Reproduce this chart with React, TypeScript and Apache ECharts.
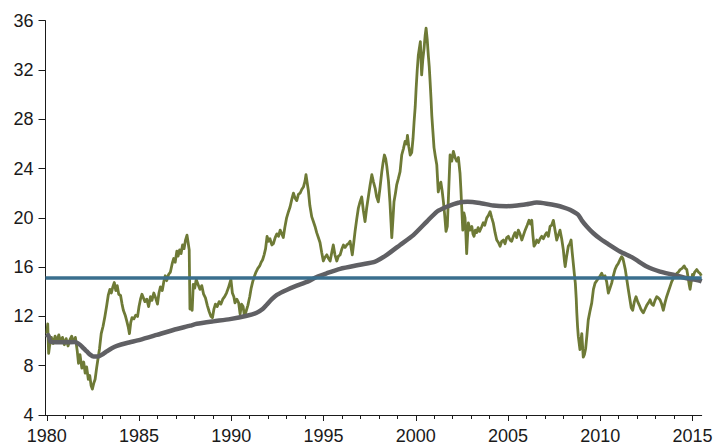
import React, { useEffect, useRef } from "react";
import * as echarts from "echarts";

// Green series: [year, value]
const peRatio: number[][] = [
  [1980.0, 10.6], [1980.05, 11.4], [1980.1, 9.0], [1980.15, 9.6], [1980.25, 10.3], [1980.35, 9.8],
  [1980.45, 10.4], [1980.55, 10.0], [1980.65, 10.5], [1980.75, 9.9], [1980.85, 10.3], [1980.95, 9.7],
  [1981.05, 10.2], [1981.15, 9.6], [1981.25, 10.1], [1981.35, 10.4], [1981.45, 9.9], [1981.55, 10.3],
  [1981.65, 9.2], [1981.72, 8.2], [1981.8, 8.9], [1981.9, 7.8], [1982.0, 8.3], [1982.08, 7.4],
  [1982.16, 7.9], [1982.25, 6.9], [1982.33, 7.2], [1982.4, 6.4], [1982.47, 6.1], [1982.55, 6.6],
  [1982.62, 6.9], [1982.7, 7.8], [1982.78, 8.6], [1982.86, 9.4], [1982.95, 10.6], [1983.05, 11.2],
  [1983.15, 12.0], [1983.25, 12.9], [1983.33, 13.7], [1983.42, 14.2], [1983.5, 13.9], [1983.58, 14.4],
  [1983.66, 14.75], [1983.74, 14.1], [1983.82, 14.5], [1983.9, 13.8], [1984.0, 13.7], [1984.08, 13.0],
  [1984.15, 12.5], [1984.25, 12.1], [1984.34, 11.6], [1984.42, 11.1], [1984.48, 10.6], [1984.55, 11.5],
  [1984.62, 11.9], [1984.72, 11.8], [1984.82, 12.1], [1984.92, 12.0], [1985.0, 12.8], [1985.08, 13.4],
  [1985.16, 13.8], [1985.24, 13.5], [1985.32, 13.2], [1985.42, 13.4], [1985.52, 12.8], [1985.62, 13.6],
  [1985.7, 13.3], [1985.8, 13.9], [1985.9, 13.5], [1986.0, 13.0], [1986.08, 13.9], [1986.16, 14.4],
  [1986.26, 14.1], [1986.34, 14.8], [1986.42, 15.3], [1986.5, 14.9], [1986.6, 15.4], [1986.7, 15.6],
  [1986.8, 16.3], [1986.88, 16.7], [1986.96, 16.4], [1987.05, 17.3], [1987.12, 16.9], [1987.2, 17.4],
  [1987.28, 17.1], [1987.36, 17.8], [1987.44, 17.5], [1987.52, 18.2], [1987.6, 18.6], [1987.66, 18.0],
  [1987.72, 17.4], [1987.76, 12.6], [1987.82, 13.2], [1987.88, 12.5], [1987.94, 14.6], [1988.02, 14.3],
  [1988.1, 15.0], [1988.2, 14.6], [1988.3, 14.2], [1988.4, 14.5], [1988.5, 13.8], [1988.6, 13.5],
  [1988.7, 12.9], [1988.8, 12.4], [1988.9, 12.0], [1988.98, 11.9], [1989.06, 12.6], [1989.14, 13.0],
  [1989.24, 12.8], [1989.34, 13.2], [1989.44, 13.0], [1989.54, 13.4], [1989.64, 13.6], [1989.74, 13.9],
  [1989.84, 14.3], [1989.92, 14.7], [1989.98, 15.0], [1990.06, 13.9], [1990.14, 13.6], [1990.2, 13.1],
  [1990.3, 13.4], [1990.4, 13.1], [1990.48, 12.2], [1990.56, 13.0], [1990.64, 12.8], [1990.72, 12.0],
  [1990.8, 12.4], [1990.9, 12.9], [1991.0, 13.6], [1991.08, 14.3], [1991.16, 14.8], [1991.24, 15.2],
  [1991.34, 15.6], [1991.44, 15.9], [1991.54, 16.1], [1991.62, 16.4], [1991.7, 16.6], [1991.78, 17.0],
  [1991.86, 17.5], [1991.94, 18.5], [1992.02, 18.1], [1992.1, 18.3], [1992.2, 17.8], [1992.28, 17.9],
  [1992.38, 18.4], [1992.47, 18.7], [1992.56, 18.5], [1992.65, 19.0], [1992.74, 18.7], [1992.82, 18.4],
  [1992.9, 19.2], [1993.0, 20.0], [1993.1, 20.5], [1993.19, 20.9], [1993.28, 21.5], [1993.37, 22.0],
  [1993.46, 21.6], [1993.55, 21.4], [1993.64, 21.9], [1993.73, 22.0], [1993.82, 22.3], [1993.91, 22.5],
  [1994.0, 23.0], [1994.05, 23.5], [1994.12, 22.8], [1994.18, 22.2], [1994.26, 21.0], [1994.36, 20.1],
  [1994.45, 19.7], [1994.54, 19.3], [1994.63, 18.8], [1994.72, 18.4], [1994.81, 18.0], [1994.9, 17.2],
  [1994.99, 16.5], [1995.08, 16.8], [1995.18, 17.0], [1995.27, 16.7], [1995.36, 16.5], [1995.45, 17.2],
  [1995.53, 17.8], [1995.62, 17.0], [1995.72, 16.5], [1995.81, 16.9], [1995.9, 17.0], [1996.0, 17.5],
  [1996.08, 17.8], [1996.17, 17.6], [1996.26, 17.8], [1996.35, 17.9], [1996.44, 18.1], [1996.56, 17.0],
  [1996.64, 18.0], [1996.71, 18.9], [1996.8, 19.9], [1996.89, 20.8], [1996.98, 21.3], [1997.07, 21.7],
  [1997.16, 20.6], [1997.25, 19.7], [1997.34, 20.8], [1997.43, 21.7], [1997.52, 22.6], [1997.62, 23.5],
  [1997.71, 22.9], [1997.8, 22.4], [1997.88, 21.7], [1997.97, 21.3], [1998.06, 22.4], [1998.16, 23.75],
  [1998.23, 24.5], [1998.3, 25.1], [1998.37, 24.8], [1998.43, 24.2], [1998.52, 23.0], [1998.6, 21.3],
  [1998.66, 19.6], [1998.7, 18.4], [1998.76, 19.8], [1998.82, 21.3], [1998.9, 22.0], [1998.97, 22.7],
  [1999.06, 23.2], [1999.15, 23.75], [1999.24, 25.1], [1999.33, 25.6], [1999.42, 26.2], [1999.5, 26.0],
  [1999.55, 26.7], [1999.62, 25.8], [1999.7, 25.1], [1999.78, 25.3], [1999.85, 26.4], [1999.91, 27.8],
  [1999.97, 29.0], [2000.02, 30.5], [2000.08, 32.0], [2000.14, 33.2], [2000.2, 33.8], [2000.25, 34.3],
  [2000.32, 31.6], [2000.38, 32.8], [2000.45, 33.75], [2000.51, 34.8], [2000.56, 35.4], [2000.62, 34.5],
  [2000.68, 33.2], [2000.73, 32.3], [2000.78, 31.0], [2000.83, 29.6], [2000.87, 28.3], [2000.93, 27.0],
  [2000.99, 25.7], [2001.06, 25.0], [2001.14, 24.3], [2001.22, 22.1], [2001.29, 22.6], [2001.36, 22.9],
  [2001.43, 22.2], [2001.5, 21.3], [2001.57, 20.2], [2001.64, 18.9], [2001.71, 19.3], [2001.78, 22.0],
  [2001.86, 25.1], [2001.95, 24.6], [2002.04, 25.4], [2002.13, 24.9], [2002.22, 24.6], [2002.31, 24.9],
  [2002.4, 23.6], [2002.45, 22.2], [2002.49, 20.9], [2002.55, 19.0], [2002.61, 20.4], [2002.67, 20.0],
  [2002.72, 18.6], [2002.76, 17.1], [2002.8, 18.3], [2002.85, 19.6], [2002.94, 19.0], [2003.04, 19.3],
  [2003.1, 18.7], [2003.16, 18.5], [2003.23, 19.0], [2003.3, 18.8], [2003.38, 19.2], [2003.46, 18.9],
  [2003.58, 19.3], [2003.66, 19.6], [2003.74, 19.4], [2003.85, 20.0], [2003.94, 20.2], [2004.03, 20.5],
  [2004.12, 20.0], [2004.2, 19.6], [2004.3, 18.8], [2004.39, 18.2], [2004.48, 18.0], [2004.57, 17.7],
  [2004.66, 18.1], [2004.75, 18.2], [2004.84, 17.9], [2004.93, 18.4], [2005.02, 18.5], [2005.11, 18.2],
  [2005.2, 18.1], [2005.29, 18.5], [2005.38, 18.8], [2005.47, 18.4], [2005.56, 19.0], [2005.65, 18.7],
  [2005.75, 18.2], [2005.84, 18.6], [2005.93, 19.0], [2006.04, 19.4], [2006.14, 19.8], [2006.22, 19.5],
  [2006.29, 19.8], [2006.35, 18.6], [2006.41, 17.7], [2006.49, 17.9], [2006.56, 18.2], [2006.65, 18.0],
  [2006.74, 18.3], [2006.83, 18.5], [2006.92, 18.3], [2007.01, 18.6], [2007.1, 18.8], [2007.19, 18.5],
  [2007.28, 19.3], [2007.37, 19.4], [2007.46, 19.8], [2007.55, 19.0], [2007.64, 18.2], [2007.73, 18.6],
  [2007.82, 19.0], [2007.91, 18.3], [2008.0, 17.4], [2008.06, 16.5], [2008.1, 16.05], [2008.17, 16.8],
  [2008.27, 17.7], [2008.35, 17.9], [2008.42, 18.2], [2008.48, 17.2], [2008.54, 16.3], [2008.6, 15.4],
  [2008.65, 14.7], [2008.7, 13.4], [2008.73, 12.3], [2008.77, 11.2], [2008.81, 10.4], [2008.86, 9.8],
  [2008.9, 9.3], [2008.95, 10.0], [2009.0, 10.6], [2009.05, 9.4], [2009.08, 8.7], [2009.14, 8.9],
  [2009.21, 9.4], [2009.28, 10.5], [2009.35, 11.7], [2009.44, 12.4], [2009.54, 13.1], [2009.63, 14.2],
  [2009.72, 14.7], [2009.81, 14.9], [2009.9, 15.1], [2010.0, 15.3], [2010.08, 15.5], [2010.17, 15.2],
  [2010.26, 15.3], [2010.35, 14.8], [2010.44, 13.9], [2010.53, 14.3], [2010.62, 14.7], [2010.71, 15.3],
  [2010.8, 15.8], [2010.89, 16.1], [2010.98, 16.3], [2011.07, 16.6], [2011.16, 16.85], [2011.23, 16.7],
  [2011.29, 16.3], [2011.36, 15.8], [2011.44, 15.0], [2011.52, 14.2], [2011.61, 13.35], [2011.68, 12.7],
  [2011.76, 12.5], [2011.85, 13.2], [2011.94, 13.6], [2012.03, 13.2], [2012.12, 12.9], [2012.2, 12.6],
  [2012.28, 12.4], [2012.34, 12.3], [2012.43, 12.6], [2012.52, 12.9], [2012.61, 13.1], [2012.7, 13.35],
  [2012.79, 13.0], [2012.88, 12.9], [2012.97, 13.3], [2013.06, 13.6], [2013.15, 13.5], [2013.24, 13.35],
  [2013.33, 13.0], [2013.42, 12.5], [2013.51, 13.1], [2013.6, 13.6], [2013.69, 14.0], [2013.78, 14.4],
  [2013.87, 14.8], [2013.96, 15.1], [2014.05, 15.3], [2014.15, 15.5], [2014.24, 15.6], [2014.33, 15.8],
  [2014.44, 15.9], [2014.55, 16.1], [2014.62, 15.9], [2014.69, 15.8], [2014.76, 15.2], [2014.82, 14.6],
  [2014.87, 14.2], [2014.93, 14.8], [2015.0, 15.4], [2015.05, 15.3], [2015.12, 15.6], [2015.23, 15.8],
  [2015.32, 15.6], [2015.41, 15.5], [2015.48, 15.3],
];

// Gray series: [year, value]
const movingAverage: number[][] = [
  [1980.0, 10.3], [1980.08, 10.5], [1980.2, 9.95], [1980.5, 9.9], [1981.0, 9.9], [1981.5, 9.92],
  [1981.8, 9.7], [1982.0, 9.4], [1982.17, 9.16], [1982.35, 8.9], [1982.53, 8.75], [1982.8, 8.75],
  [1983.05, 8.95], [1983.25, 9.16], [1983.5, 9.4], [1983.8, 9.6], [1984.34, 9.84], [1985.05, 10.1],
  [1985.96, 10.5], [1986.86, 10.9], [1987.77, 11.25], [1988.13, 11.4], [1989.03, 11.6], [1989.93, 11.78],
  [1990.84, 12.05], [1991.38, 12.3], [1991.7, 12.6], [1991.92, 12.95], [1992.2, 13.4], [1992.47, 13.75],
  [1993.0, 14.15], [1993.55, 14.5], [1994.1, 14.8], [1994.63, 15.2], [1995.17, 15.5], [1995.9, 15.86],
  [1996.98, 16.2], [1997.8, 16.45], [1998.43, 17.0], [1999.15, 17.8], [1999.87, 18.6], [2000.6, 19.7],
  [2001.14, 20.5], [2001.68, 20.9], [2002.36, 21.25], [2002.8, 21.3], [2003.48, 21.2], [2004.2, 21.0],
  [2004.93, 20.95], [2005.5, 21.0], [2006.0, 21.1], [2006.56, 21.24], [2007.1, 21.15], [2007.64, 21.0],
  [2008.0, 20.85], [2008.36, 20.65], [2008.81, 20.24], [2009.0, 19.8], [2009.27, 19.3], [2009.63, 18.75],
  [2010.0, 18.3], [2010.35, 17.95], [2011.07, 17.27], [2011.8, 16.73], [2012.52, 16.05], [2013.24, 15.64],
  [2013.96, 15.38], [2014.69, 15.1], [2015.41, 14.9], [2015.5, 14.85],
];

const longTermAverage = 15.15;

const yearTicks: number[] = [
  1980, 1981, 1982, 1983, 1984, 1985, 1986, 1987, 1988, 1989, 1990, 1991, 1992, 1993, 1994, 1995, 1996, 1997,
  1998, 1999, 2000, 2001, 2002, 2003, 2004, 2005, 2006, 2007, 2008, 2009, 2010, 2011, 2012, 2013, 2014, 2015,
];
const yearLabels: number[] = [1980, 1985, 1990, 1995, 2000, 2005, 2010, 2015];

const X_MIN = 1979.93;
const X_MAX = 2015.5;

export default function App() {
  const ref = useRef<HTMLDivElement>(null);
  useEffect(() => {
    if (!ref.current) return;
    const chart = echarts.init(ref.current, undefined, { renderer: "svg" });
    const font = "'Liberation Sans', Arial, Helvetica, sans-serif";
    const axisColor = "#1a1a1a";
    chart.setOption({
      animation: false,
      backgroundColor: "#ffffff",
      grid: { left: 45.5, right: 24.3, top: 20.7, bottom: 30, containLabel: false },
      xAxis: [
        {
          type: "value",
          min: X_MIN,
          max: X_MAX,
          position: "bottom",
          axisLine: { show: true, lineStyle: { color: axisColor, width: 1 } },
          axisTick: { show: true, length: 4, customValues: yearTicks, lineStyle: { color: axisColor, width: 1 } },
          axisLabel: {
            show: true,
            customValues: yearLabels,
            margin: 12,
            fontSize: 18,
            fontFamily: font,
            color: axisColor,
            formatter: (v: number) => String(Math.round(v)),
          },
          splitLine: { show: false },
        },
        {
          type: "value",
          min: X_MIN,
          max: X_MAX,
          position: "bottom",
          axisLine: { show: false },
          axisTick: { show: true, length: 6, customValues: yearLabels, lineStyle: { color: axisColor, width: 1 } },
          axisLabel: { show: false },
          splitLine: { show: false },
        },
      ],
      yAxis: {
        type: "value",
        min: 4,
        max: 36,
        interval: 4,
        axisLine: { show: true, lineStyle: { color: axisColor, width: 1 } },
        axisTick: { show: true, length: 7, lineStyle: { color: axisColor, width: 1 } },
        axisLabel: { margin: 12, fontSize: 18, fontFamily: font, color: axisColor },
        splitLine: { show: false },
      },
      series: [
        {
          name: "P/E",
          type: "line",
          data: peRatio,
          showSymbol: false,
          symbol: "none",
          lineStyle: { color: "#6e7a36", width: 2.8, join: "round" },
          z: 2,
        },
        {
          name: "Moving average",
          type: "line",
          data: movingAverage,
          showSymbol: false,
          symbol: "none",
          smooth: 0.2,
          lineStyle: { color: "#606064", width: 4.5 },
          z: 3,
        },
        {
          name: "Long-term average",
          type: "line",
          data: [],
          z: 4,
          markLine: {
            silent: true,
            symbol: "none",
            label: { show: false },
            lineStyle: { color: "#3a6f8e", width: 3.5, type: "solid" },
            data: [{ yAxis: longTermAverage }],
          },
        },
      ],
    });
    return () => chart.dispose();
  }, []);
  return (
    <div
      ref={ref}
      style={{ position: "fixed", left: 0, top: 0, width: 726, height: 445, background: "#fff" }}
    />
  );
}
